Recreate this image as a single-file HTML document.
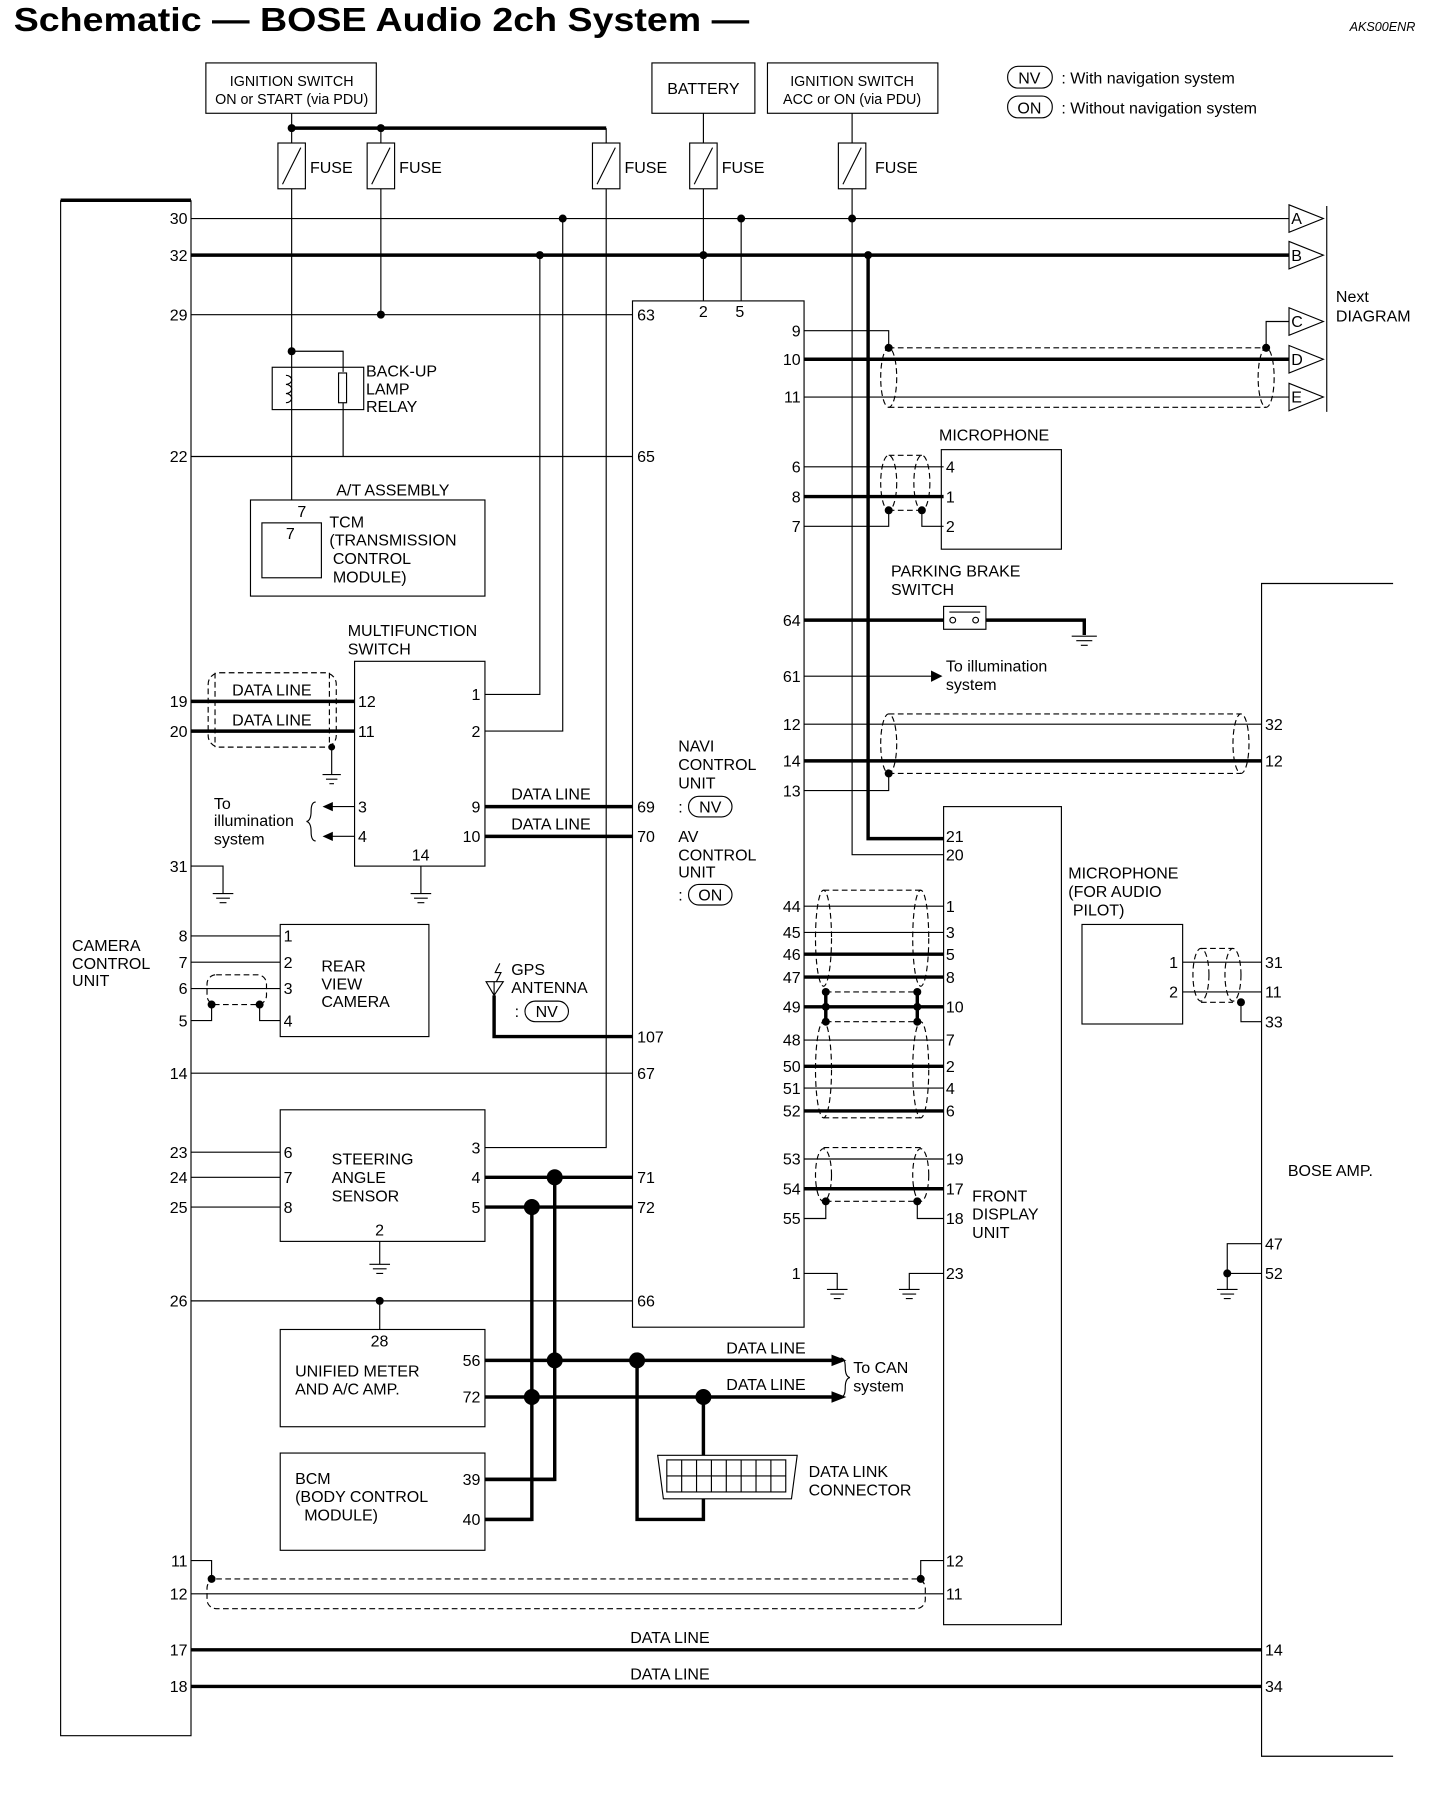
<!DOCTYPE html>
<html><head><meta charset="utf-8"><style>
html,body{margin:0;padding:0;background:#fff}
svg{display:block}
text{font-family:"Liberation Sans",sans-serif;font-size:14px;fill:#000}
.t{stroke:#000;stroke-width:1;fill:none}
.k{stroke:#000;stroke-width:3;fill:none}
.d{stroke:#000;stroke-width:1;fill:none;stroke-dasharray:5,3}
.r{text-anchor:end}
</style></head><body>
<svg width="1456" height="1794" viewBox="0 0 1273 1568" preserveAspectRatio="none" xmlns="http://www.w3.org/2000/svg">
<text x="12" y="27" style="font-size:29px;font-weight:bold" textLength="643" lengthAdjust="spacingAndGlyphs">Schematic — BOSE Audio 2ch System —</text>
<text x="1180" y="27" style="font-size:11px;font-style:italic">AKS00ENR</text>

<!-- top boxes -->
<rect class="t" x="180" y="55" width="149" height="44"/>
<text x="255" y="75" text-anchor="middle" style="font-size:12.5px">IGNITION SWITCH</text>
<text x="255" y="91" text-anchor="middle" style="font-size:12.5px">ON or START (via PDU)</text>
<rect class="t" x="570" y="55" width="90" height="44"/>
<text x="615" y="82" text-anchor="middle">BATTERY</text>
<rect class="t" x="671" y="55" width="149" height="44"/>
<text x="745" y="75" text-anchor="middle" style="font-size:12.5px">IGNITION SWITCH</text>
<text x="745" y="91" text-anchor="middle" style="font-size:12.5px">ACC or ON (via PDU)</text>
<rect class="t" x="881" y="58" width="39" height="19" rx="9"/><text x="900" y="73" text-anchor="middle">NV</text>
<text x="928" y="73">: With navigation system</text>
<rect class="t" x="881" y="84" width="39" height="19" rx="9"/><text x="900" y="99" text-anchor="middle">ON</text>
<text x="928" y="99">: Without navigation system</text>

<!-- fuses -->
<path class="t" d="M255 99V125M615 99V125M745 99V125"/>
<path class="k" d="M255 112H530"/><path class="t" d="M333 112V125M530 112V125"/>
<circle cx="255" cy="112" r="3.5"/><circle cx="333" cy="112" r="3.5"/>
<g class="t">
<rect x="243" y="125" width="24" height="40"/><path d="M247 161L263 129"/>
<rect x="321" y="125" width="24" height="40"/><path d="M325 161L341 129"/>
<rect x="518" y="125" width="24" height="40"/><path d="M522 161L538 129"/>
<rect x="603" y="125" width="24" height="40"/><path d="M607 161L623 129"/>
<rect x="733" y="125" width="24" height="40"/><path d="M737 161L753 129"/>
</g>
<text x="271" y="151">FUSE</text><text x="349" y="151">FUSE</text><text x="546" y="151">FUSE</text><text x="631" y="151">FUSE</text><text x="765" y="151">FUSE</text>

<!-- CCU -->
<path class="k" d="M53 175H167"/>
<path class="t" d="M53 175V1517H167V175"/>
<text x="63" y="831">CAMERA</text><text x="63" y="847">CONTROL</text><text x="63" y="862">UNIT</text>
<g class="r">
<text x="164" y="196">30</text><text x="164" y="228">32</text><text x="164" y="280">29</text><text x="164" y="404">22</text>
<text x="164" y="618">19</text><text x="164" y="644">20</text><text x="164" y="762">31</text>
<text x="164" y="823">8</text><text x="164" y="846">7</text><text x="164" y="869">6</text><text x="164" y="897">5</text>
<text x="164" y="943">14</text><text x="164" y="1012">23</text><text x="164" y="1034">24</text><text x="164" y="1060">25</text>
<text x="164" y="1142">26</text><text x="164" y="1369">11</text><text x="164" y="1398">12</text>
<text x="164" y="1447">17</text><text x="164" y="1479">18</text>
</g>

<!-- main buses -->
<path class="t" d="M167 191H1127"/>
<path class="k" d="M167 223H1127"/>
<path class="t" d="M167 275H553"/>
<circle cx="492" cy="191" r="3.5"/><circle cx="648" cy="191" r="3.5"/><circle cx="745" cy="191" r="3.5"/>
<circle cx="472" cy="223" r="3.5"/><circle cx="615" cy="223" r="3.5"/><circle cx="759" cy="223" r="3.5"/>
<circle cx="333" cy="275" r="3.5"/>
<path class="t" d="M255 165V437M333 165V275M530 165V1003H424M615 165V263M648 191V263M745 165V747H825M472 223V607H424M492 191V639H424"/>
<path class="k" d="M759 223V733H825"/>

<!-- arrows A-E -->
<g class="t">
<path d="M1127 179L1157 191L1127 203Z"/><path d="M1127 211L1157 223L1127 235Z"/>
<path d="M1127 269L1157 281L1127 293Z"/><path d="M1127 302L1157 314L1127 326Z"/><path d="M1127 335L1157 347L1127 359Z"/>
<path d="M1160 180V360"/>
</g>
<text x="1129" y="196">A</text><text x="1129" y="228">B</text><text x="1129" y="286">C</text><text x="1129" y="319">D</text><text x="1129" y="352">E</text>
<text x="1168" y="264">Next</text><text x="1168" y="281">DIAGRAM</text>

<!-- relay -->
<circle cx="255" cy="307" r="3.5"/>
<path class="t" d="M255 307H300V325M300 352V399"/>
<rect class="t" x="238" y="321" width="80" height="37"/>
<path class="t" d="M250 328a5 4 0 0 1 0 8a5 4 0 0 1 0 8a5 4 0 0 1 0 8"/>
<rect x="296" y="326" width="7" height="26" fill="#fff" stroke="#000"/>
<text x="320" y="329">BACK-UP</text><text x="320" y="345">LAMP</text><text x="320" y="360">RELAY</text>
<path class="t" d="M167 399H553"/>

<!-- A/T -->
<text x="294" y="433">A/T ASSEMBLY</text>
<rect class="t" x="219" y="437" width="205" height="84"/>
<rect class="t" x="229" y="457" width="52" height="48"/>
<text x="260" y="452">7</text><text x="250" y="471">7</text>
<text x="288" y="461">TCM</text><text x="288" y="477">(TRANSMISSION</text><text x="291" y="493">CONTROL</text><text x="291" y="509">MODULE)</text>

<!-- MFS -->
<text x="304" y="556">MULTIFUNCTION</text><text x="304" y="572">SWITCH</text>
<rect class="t" x="310" y="578" width="114" height="179"/>
<text x="313" y="618">12</text><text x="313" y="644">11</text><text x="313" y="710">3</text><text x="313" y="736">4</text>
<text x="420" y="612" class="r">1</text><text x="420" y="644" class="r">2</text><text x="420" y="710" class="r">9</text><text x="420" y="736" class="r">10</text>
<text x="360" y="752">14</text>
<path class="k" d="M167 613H310M167 639H310"/>
<rect class="d" x="182" y="588" width="112" height="65" rx="10"/>
<path class="d" d="M188 588v65M288 588v65"/>
<text x="203" y="608">DATA LINE</text><text x="203" y="634">DATA LINE</text>
<path class="t" d="M290 653V677M282 677h16M285 681h10M288 685h4"/>
<circle cx="290" cy="653" r="3"/>
<path class="t" d="M368 757V781M359 781h18M362 785h12M365 789h6"/>
<path class="t" d="M310 705H290M310 731H290"/>
<path d="M282 705l9 -4v8zM282 731l9 -4v8z"/>
<path class="t" d="M276 701q-4 0 -4 8q0 8 -4 9q4 1 4 9q0 8 4 8"/>
<text x="187" y="707">To</text><text x="187" y="722">illumination</text><text x="187" y="738">system</text>
<path class="k" d="M424 705H553M424 731H553"/>
<text x="447" y="699">DATA LINE</text><text x="447" y="725">DATA LINE</text>
<path class="t" d="M167 757H195V781M186 781h18M189 785h12M192 789h6"/>

<!-- Rear view camera -->
<rect class="t" x="245" y="808" width="130" height="98"/>
<text x="248" y="823">1</text><text x="248" y="846">2</text><text x="248" y="869">3</text><text x="248" y="897">4</text>
<text x="281" y="849">REAR</text><text x="281" y="865">VIEW</text><text x="281" y="880">CAMERA</text>
<path class="t" d="M167 818H245M167 841H245M167 864H245M167 892H185V878M245 892H227V878"/>
<rect class="d" x="181" y="852" width="52" height="26" rx="8"/>
<circle cx="185" cy="878" r="3.5"/><circle cx="227" cy="878" r="3.5"/>

<!-- GPS -->
<path class="t" d="M425 858L440 858L432 870ZM432 858V870M437 842l-4 8h5l-4 8"/>
<path class="k" d="M432 870V906H553"/>
<text x="447" y="852">GPS</text><text x="447" y="868">ANTENNA</text>
<text x="450" y="889">:</text><rect class="t" x="459" y="875" width="38" height="18" rx="9"/><text x="478" y="889" text-anchor="middle">NV</text>
<path class="t" d="M167 938H553"/>

<!-- Steering -->
<rect class="t" x="245" y="970" width="179" height="115"/>
<text x="248" y="1012">6</text><text x="248" y="1034">7</text><text x="248" y="1060">8</text>
<text x="420" y="1008" class="r">3</text><text x="420" y="1034" class="r">4</text><text x="420" y="1060" class="r">5</text>
<text x="328" y="1080">2</text>
<text x="290" y="1018">STEERING</text><text x="290" y="1034">ANGLE</text><text x="290" y="1050">SENSOR</text>
<path class="t" d="M167 1007H245M167 1029H245M167 1055H245M332 1085V1105M323 1105h18M326 1109h12M329 1113h6"/>
<path class="k" d="M424 1029H553M424 1055H553M485 1029V1293H424M465 1055V1328H424"/>
<circle cx="485" cy="1029" r="7"/><circle cx="465" cy="1055" r="7"/>

<path class="t" d="M167 1137H553M332 1137V1162"/><circle cx="332" cy="1137" r="3.5"/>
<rect class="t" x="245" y="1162" width="179" height="85"/>
<text x="324" y="1177">28</text>
<text x="258" y="1203">UNIFIED METER</text><text x="258" y="1219">AND A/C AMP.</text>
<text x="420" y="1194" class="r">56</text><text x="420" y="1226" class="r">72</text>
<path class="k" d="M424 1189H728M424 1221H728M557 1189V1328H615V1310M615 1221V1272"/>
<path d="M740 1189l-13 -5v10zM740 1221l-13 -5v10z"/>
<circle cx="485" cy="1189" r="7"/><circle cx="557" cy="1189" r="7"/><circle cx="465" cy="1221" r="7"/><circle cx="615" cy="1221" r="7"/>
<text x="635" y="1183">DATA LINE</text><text x="635" y="1215">DATA LINE</text>
<path class="t" d="M735 1187q4 0 4 8q0 8 4 9q-4 1 -4 9q0 8 -4 8"/>
<text x="746" y="1200">To CAN</text><text x="746" y="1216">system</text>

<!-- DLC -->
<path class="t" d="M575 1272H697L692 1310H580Z"/>
<rect class="t" x="583" y="1276" width="104" height="28"/>
<path class="t" d="M583 1290H687M596 1276V1304M609 1276V1304M622 1276V1304M635 1276V1304M648 1276V1304M661 1276V1304M674 1276V1304"/>
<text x="707" y="1291">DATA LINK</text><text x="707" y="1307">CONNECTOR</text>

<!-- BCM -->
<rect class="t" x="245" y="1270" width="179" height="85"/>
<text x="258" y="1297">BCM</text><text x="258" y="1313">(BODY CONTROL</text><text x="266" y="1329">MODULE)</text>
<text x="420" y="1298" class="r">39</text><text x="420" y="1333" class="r">40</text>
<path class="k" d="M424 1293H485M424 1328H465"/>

<!-- 11/12 -->
<path class="t" d="M167 1364H185V1380M167 1393H825M825 1364H805V1380"/>
<rect class="d" x="181" y="1380" width="628" height="26" rx="8"/>
<circle cx="185" cy="1380" r="3.5"/><circle cx="805" cy="1380" r="3.5"/>
<path class="k" d="M167 1442H1103M167 1474H1103"/>
<text x="551" y="1436">DATA LINE</text><text x="551" y="1468">DATA LINE</text>

<!-- NAVI -->
<rect class="t" x="553" y="263" width="150" height="897"/>
<text x="611" y="277">2</text><text x="643" y="277">5</text>
<text x="557" y="280">63</text><text x="557" y="404">65</text><text x="557" y="710">69</text><text x="557" y="736">70</text>
<text x="557" y="911">107</text><text x="557" y="943">67</text><text x="557" y="1034">71</text><text x="557" y="1060">72</text><text x="557" y="1142">66</text>
<text x="593" y="657">NAVI</text><text x="593" y="673">CONTROL</text><text x="593" y="689">UNIT</text>
<text x="593" y="710">:</text><rect class="t" x="602" y="696" width="38" height="18" rx="9"/><text x="621" y="710" text-anchor="middle">NV</text>
<text x="593" y="736">AV</text><text x="593" y="752">CONTROL</text><text x="593" y="767">UNIT</text>
<text x="593" y="787">:</text><rect class="t" x="602" y="773" width="38" height="18" rx="9"/><text x="621" y="787" text-anchor="middle">ON</text>
<g class="r">
<text x="700" y="294">9</text><text x="700" y="319">10</text><text x="700" y="352">11</text>
<text x="700" y="413">6</text><text x="700" y="439">8</text><text x="700" y="465">7</text>
<text x="700" y="547">64</text><text x="700" y="596">61</text>
<text x="700" y="638">12</text><text x="700" y="670">14</text><text x="700" y="696">13</text>
<text x="700" y="797">44</text><text x="700" y="820">45</text><text x="700" y="839">46</text><text x="700" y="859">47</text>
<text x="700" y="885">49</text><text x="700" y="914">48</text><text x="700" y="937">50</text><text x="700" y="956">51</text><text x="700" y="976">52</text>
<text x="700" y="1018">53</text><text x="700" y="1044">54</text><text x="700" y="1070">55</text><text x="700" y="1118">1</text>
</g>

<!-- 9/10/11 -->
<path class="t" d="M703 289H777V304M703 347H1127M1107 304V281H1127"/>
<path class="k" d="M703 314H1127"/>
<path class="d" d="M777 304H1107M777 356H1107"/>
<ellipse class="d" cx="777" cy="330" rx="7" ry="26"/><ellipse class="d" cx="1107" cy="330" rx="7" ry="26"/>
<circle cx="777" cy="304" r="3.5"/><circle cx="1107" cy="304" r="3.5"/>

<!-- microphone -->
<text x="821" y="385">MICROPHONE</text>
<rect class="t" x="823" y="393" width="105" height="87"/>
<text x="827" y="413">4</text><text x="827" y="439">1</text><text x="827" y="465">2</text>
<path class="t" d="M703 408H825M703 460H777V446M806 446V460H825"/>
<path class="k" d="M703 434H825"/>
<ellipse class="d" cx="777" cy="422" rx="7" ry="24"/><ellipse class="d" cx="806" cy="422" rx="7" ry="24"/>
<path class="d" d="M777 398H806M777 446H806"/>
<circle cx="777" cy="446" r="3.5"/><circle cx="806" cy="446" r="3.5"/>

<!-- parking brake -->
<text x="779" y="504">PARKING BRAKE</text><text x="779" y="520">SWITCH</text>
<rect class="t" x="825" y="530" width="37" height="20"/>
<path class="t" d="M830 535h27"/><circle class="t" cx="833" cy="542" r="2.5"/><circle class="t" cx="853" cy="542" r="2.5"/>
<path class="k" d="M703 542H825M862 542H948V555"/>
<path class="t" d="M937 556h22M941 560h14M945 564h6"/>
<path class="t" d="M703 591H815"/><path d="M824 591l-10 -5v10z"/>
<text x="827" y="587">To illumination</text><text x="827" y="603">system</text>

<!-- 12/14/13 -->
<path class="t" d="M703 633H1103M703 691H777V676"/>
<path class="k" d="M703 665H1103"/>
<path class="d" d="M777 624H1085M777 676H1085"/>
<ellipse class="d" cx="777" cy="650" rx="7" ry="26"/><ellipse class="d" cx="1085" cy="650" rx="7" ry="26"/>
<circle cx="777" cy="676" r="3.5"/>

<!-- FDU -->
<rect class="t" x="825" y="705" width="103" height="715"/>
<text x="827" y="736">21</text><text x="827" y="752">20</text>
<text x="827" y="797">1</text><text x="827" y="820">3</text><text x="827" y="839">5</text><text x="827" y="859">8</text>
<text x="827" y="885">10</text><text x="827" y="914">7</text><text x="827" y="937">2</text><text x="827" y="956">4</text><text x="827" y="976">6</text>
<text x="827" y="1018">19</text><text x="827" y="1044">17</text><text x="827" y="1070">18</text><text x="827" y="1118">23</text>
<text x="827" y="1369">12</text><text x="827" y="1398">11</text>
<text x="850" y="1050">FRONT</text><text x="850" y="1066">DISPLAY</text><text x="850" y="1082">UNIT</text>
<path class="t" d="M703 792H825M703 815H825M703 909H825M703 951H825M703 1013H825"/>
<path class="k" d="M703 834H825M703 854H825M703 880H825M703 932H825M703 971H825M703 1039H825M722 867V893M802 867V893"/>
<ellipse class="d" cx="720" cy="820" rx="7" ry="42"/><ellipse class="d" cx="805" cy="820" rx="7" ry="42"/>
<ellipse class="d" cx="720" cy="935" rx="7" ry="42"/><ellipse class="d" cx="805" cy="935" rx="7" ry="42"/>
<path class="d" d="M720 778H805M722 867H802M722 893H802M720 977H805"/>
<circle cx="722" cy="867" r="3.5"/><circle cx="722" cy="880" r="3.5"/><circle cx="722" cy="893" r="3.5"/>
<circle cx="802" cy="867" r="3.5"/><circle cx="802" cy="880" r="3.5"/><circle cx="802" cy="893" r="3.5"/>
<ellipse class="d" cx="720" cy="1027" rx="7" ry="23"/><ellipse class="d" cx="805" cy="1027" rx="7" ry="23"/>
<path class="d" d="M720 1003H805M722 1050H802"/>
<path class="t" d="M703 1065H722V1050M802 1050V1065H825"/>
<circle cx="722" cy="1050" r="3.5"/><circle cx="802" cy="1050" r="3.5"/>
<path class="t" d="M703 1113H732V1127M723 1127h18M726 1131h12M729 1135h6M825 1113H795V1127M786 1127h18M789 1131h12M792 1135h6"/>

<!-- mic audio pilot -->
<text x="934" y="768">MICROPHONE</text><text x="934" y="784">(FOR AUDIO</text><text x="938" y="800">PILOT)</text>
<rect class="t" x="946" y="808" width="88" height="87"/>
<text x="1030" y="846" class="r">1</text><text x="1030" y="872" class="r">2</text>
<path class="t" d="M1034 841H1103M1034 867H1103M1085 876V893H1103"/>
<ellipse class="d" cx="1050" cy="852" rx="7" ry="23"/><ellipse class="d" cx="1078" cy="852" rx="7" ry="23"/>
<path class="d" d="M1050 829H1078M1050 876H1078"/>
<circle cx="1085" cy="876" r="3.5"/>

<!-- BOSE amp -->
<path class="t" d="M1218 510H1103V1535H1218"/>
<text x="1126" y="1028">BOSE AMP.</text>
<text x="1106" y="638">32</text><text x="1106" y="670">12</text>
<text x="1106" y="846">31</text><text x="1106" y="872">11</text><text x="1106" y="898">33</text>
<text x="1106" y="1092">47</text><text x="1106" y="1118">52</text>
<text x="1106" y="1447">14</text><text x="1106" y="1479">34</text>
<path class="t" d="M1103 1087H1073V1127M1073 1113H1103M1064 1127h18M1067 1131h12M1070 1135h6"/>
<circle cx="1073" cy="1113" r="3.5"/>
</svg>
</body></html>
